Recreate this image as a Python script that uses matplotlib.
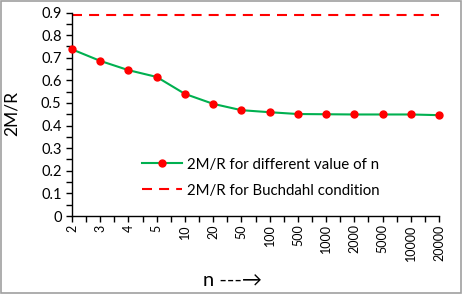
import matplotlib.pyplot as plt
import matplotlib.patches as patches
from matplotlib.ticker import MultipleLocator
import numpy as np

plt.rcParams['font.family'] = ['Lato', 'DejaVu Sans']

# data
n_labels = ['2', '3', '4', '5', '10', '20', '50', '100', '500', '1000',
            '2000', '5000', '10000', '20000']
ratio_n = [0.737, 0.686, 0.645, 0.615, 0.540, 0.496, 0.468, 0.459,
           0.451, 0.450, 0.449, 0.449, 0.449, 0.446]
buchdahl = [8 / 9] * len(n_labels)
y_ticks = [0, 0.1, 0.2, 0.3, 0.4, 0.5, 0.6, 0.7, 0.8, 0.9]

x = np.arange(len(n_labels))

fig = plt.figure(figsize=(4.63, 2.96), dpi=100)
ax = fig.add_axes([72 / 463, 80 / 296, 367 / 463, 203.5 / 296])

ax.plot(x, ratio_n, color='#00B050', lw=1.5, marker='o', ms=5,
        mfc='#FF0000', mec='#FF0000', clip_on=False, zorder=3,
        label='2M/R for different value of n')
ax.plot(x, buchdahl, color='#FF0000', lw=1.5, dashes=(4.8, 3.4),
        clip_on=False, label='2M/R for Buchdahl condition')

ax.set_xlim(0, len(n_labels) - 1)
ax.set_ylim(0, 0.9)
ax.set_xticks(x)
ax.set_xticklabels(n_labels, rotation=90, fontsize=9)
ax.xaxis.set_minor_locator(MultipleLocator(0.5))
ax.set_yticks(y_ticks)
ax.set_yticklabels([f'{v:g}' for v in y_ticks], fontsize=10.5)
ax.yaxis.set_minor_locator(MultipleLocator(0.05))
ax.tick_params(which='both', direction='out', length=4, width=1, color='black')
ax.tick_params(axis='x', pad=2)

for s in ['top', 'right']:
    ax.spines[s].set_visible(False)
for s in ['left', 'bottom']:
    ax.spines[s].set_color('black')
    ax.spines[s].set_linewidth(1)

# axis titles
fig.text(12 / 463, 1 - 114 / 296, '2M/R', fontsize=12.5, rotation=90,
         ha='center', va='center')
fig.text(233 / 463, 1 - 280 / 296, 'n ---\u2192', fontsize=14.5,
         ha='center', va='center')

ax.legend(loc='center left', bbox_to_anchor=(0.19, 0.188), frameon=False,
          fontsize=10.8, handlelength=2.7, handletextpad=0.35, labelspacing=0.8,
          borderpad=0, borderaxespad=0)

fig.patches.append(patches.Rectangle((1 / 463, 3 / 296), 460 / 463, 292 / 296,
                                     transform=fig.transFigure, fill=False,
                                     edgecolor='#A0A0A0', lw=1.2))

fig.savefig('out.png', dpi=100)
